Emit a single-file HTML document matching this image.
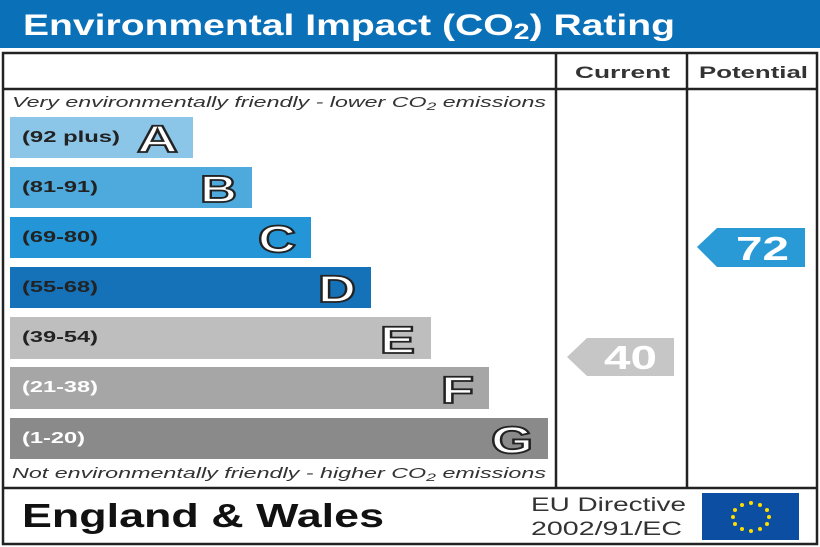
<!DOCTYPE html>
<html><head><meta charset="utf-8"><style>body{margin:0;background:#fff}svg{display:block}text{font-family:"Liberation Sans",Arial,sans-serif}</style></head><body>
<svg width="820" height="547" viewBox="0 0 820 547" xmlns="http://www.w3.org/2000/svg">
<rect x="0" y="0" width="820" height="48" fill="#0a70b8"/>
<text x="23" y="35" font-size="30" font-weight="bold" fill="#fff" textLength="652" lengthAdjust="spacingAndGlyphs">Environmental Impact (CO<tspan font-size="22" dy="4">2</tspan><tspan dy="-4">) Rating</tspan></text>
<rect x="3" y="53" width="814" height="491" fill="none" stroke="#222" stroke-width="2.5"/>
<line x1="3" y1="89" x2="817" y2="89" stroke="#222" stroke-width="2.5"/>
<line x1="556" y1="53" x2="556" y2="488" stroke="#222" stroke-width="2.5"/>
<line x1="687" y1="53" x2="687" y2="488" stroke="#222" stroke-width="2.5"/>
<line x1="3" y1="488" x2="817" y2="488" stroke="#222" stroke-width="2.5"/>
<text x="575" y="78" font-size="17" font-weight="bold" fill="#333" textLength="95" lengthAdjust="spacingAndGlyphs">Current</text>
<text x="699" y="78" font-size="17" font-weight="bold" fill="#333" textLength="109" lengthAdjust="spacingAndGlyphs">Potential</text>
<text x="12" y="107" font-size="14.5" font-style="italic" fill="#333" textLength="534" lengthAdjust="spacingAndGlyphs">Very environmentally friendly - lower CO<tspan font-size="11" dy="3">2</tspan><tspan dy="-3"> emissions</tspan></text>
<text x="12" y="478" font-size="14.5" font-style="italic" fill="#333" textLength="534" lengthAdjust="spacingAndGlyphs">Not environmentally friendly - higher CO<tspan font-size="11" dy="3">2</tspan><tspan dy="-3"> emissions</tspan></text>
<g font-weight="bold">
<rect x="10" y="117" width="183" height="41" fill="#8bc5e7"/>
<text x="22" y="142" font-size="16" fill="#222" textLength="98" lengthAdjust="spacingAndGlyphs">(92 plus)</text>
<text x="137" y="152" font-size="38" fill="#fff" stroke="#222" stroke-width="1.8" textLength="41" lengthAdjust="spacingAndGlyphs">A</text>
<rect x="10" y="167" width="242" height="41" fill="#4eaadd"/>
<text x="22" y="192" font-size="16" fill="#222" textLength="76" lengthAdjust="spacingAndGlyphs">(81-91)</text>
<text x="200" y="202" font-size="38" fill="#fff" stroke="#222" stroke-width="1.8" textLength="37" lengthAdjust="spacingAndGlyphs">B</text>
<rect x="10" y="217" width="301" height="41" fill="#2495d7"/>
<text x="22" y="242" font-size="16" fill="#222" textLength="76" lengthAdjust="spacingAndGlyphs">(69-80)</text>
<text x="258" y="252" font-size="38" fill="#fff" stroke="#222" stroke-width="1.8" textLength="38" lengthAdjust="spacingAndGlyphs">C</text>
<rect x="10" y="267" width="361" height="41" fill="#1572b9"/>
<text x="22" y="292" font-size="16" fill="#222" textLength="76" lengthAdjust="spacingAndGlyphs">(55-68)</text>
<text x="318" y="302" font-size="38" fill="#fff" stroke="#222" stroke-width="1.8" textLength="38" lengthAdjust="spacingAndGlyphs">D</text>
<rect x="10" y="317" width="421" height="42" fill="#bebebe"/>
<text x="22" y="342" font-size="16" fill="#222" textLength="76" lengthAdjust="spacingAndGlyphs">(39-54)</text>
<text x="380" y="353" font-size="38" fill="#fff" stroke="#222" stroke-width="1.8" textLength="35" lengthAdjust="spacingAndGlyphs">E</text>
<rect x="10" y="367" width="479" height="42" fill="#a6a6a6"/>
<text x="22" y="392" font-size="16" fill="#fff" textLength="76" lengthAdjust="spacingAndGlyphs">(21-38)</text>
<text x="441" y="403" font-size="38" fill="#fff" stroke="#222" stroke-width="1.8" textLength="33" lengthAdjust="spacingAndGlyphs">F</text>
<rect x="10" y="418" width="538" height="41" fill="#8a8a8a"/>
<text x="22" y="443" font-size="16" fill="#fff" textLength="63" lengthAdjust="spacingAndGlyphs">(1-20)</text>
<text x="491" y="453" font-size="38" fill="#fff" stroke="#222" stroke-width="1.8" textLength="42" lengthAdjust="spacingAndGlyphs">G</text>
</g>
<polygon points="697,247 717,228 805,228 805,267 717,267" fill="#2a9ad6"/>
<text x="736" y="260" font-size="33" font-weight="bold" fill="#fff" textLength="53" lengthAdjust="spacingAndGlyphs">72</text>
<polygon points="567,357 587,338 674,338 674,376 587,376" fill="#c6c6c6"/>
<text x="604" y="369" font-size="33" font-weight="bold" fill="#fff" textLength="53" lengthAdjust="spacingAndGlyphs">40</text>
<text x="22" y="527" font-size="33" font-weight="bold" fill="#111" textLength="362" lengthAdjust="spacingAndGlyphs">England &amp; Wales</text>
<text x="531" y="511" font-size="19" fill="#333" textLength="155" lengthAdjust="spacingAndGlyphs">EU Directive</text>
<text x="531" y="535" font-size="19" fill="#333" textLength="151" lengthAdjust="spacingAndGlyphs">2002/91/EC</text>
<rect x="702" y="493" width="97" height="47" fill="#0b4ea2"/>
<g fill="#ffdd00">
<circle cx="751" cy="503" r="2"/><circle cx="760" cy="505" r="2"/><circle cx="767" cy="510" r="2"/><circle cx="769" cy="517" r="2"/><circle cx="767" cy="524" r="2"/><circle cx="760" cy="529" r="2"/><circle cx="751" cy="531" r="2"/><circle cx="742" cy="529" r="2"/><circle cx="735" cy="524" r="2"/><circle cx="733" cy="517" r="2"/><circle cx="735" cy="510" r="2"/><circle cx="742" cy="505" r="2"/>
</g>
</svg>
</body></html>
